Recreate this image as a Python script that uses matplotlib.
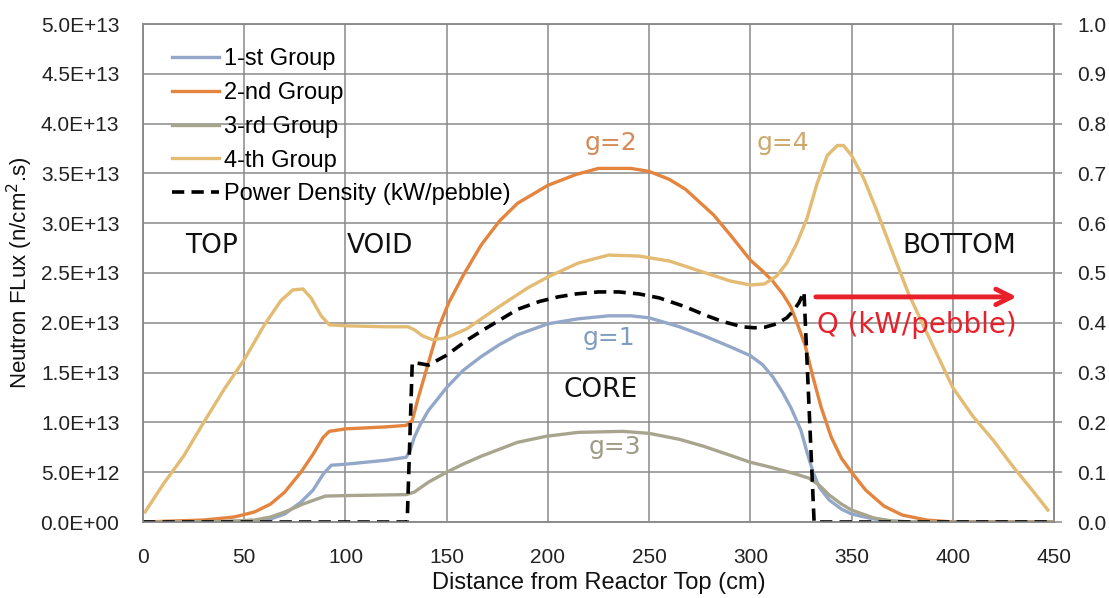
import matplotlib
matplotlib.use("Agg")
import matplotlib.pyplot as plt
from matplotlib.ticker import MultipleLocator, FormatStrFormatter, FuncFormatter

plt.rcParams["font.family"] = ["Liberation Sans", "DejaVu Sans"]

# neutron flux per energy group, in units of 1e13 n/cm2.s, vs distance from reactor top (cm)
g1_x = [0, 20, 40, 55, 63, 70, 78, 84, 89, 93, 100, 110, 120, 130, 132, 134, 137, 141, 150, 158,
        167, 176, 185, 200, 215, 230, 241, 250, 265, 277, 290, 300, 306, 311, 316, 320, 325, 328,
        331, 334, 339, 345, 350, 361, 370, 380, 450]
g1_y = [0, 0, 0.005, 0.01, 0.03, 0.08, 0.2, 0.32, 0.48, 0.57, 0.58, 0.6, 0.62, 0.65, 0.72, 0.85,
        0.98, 1.12, 1.35, 1.52, 1.66, 1.78, 1.88, 1.99, 2.04, 2.07, 2.07, 2.05, 1.96, 1.87, 1.76,
        1.67, 1.58, 1.46, 1.3, 1.15, 0.92, 0.7, 0.5, 0.35, 0.22, 0.13, 0.08, 0.03, 0.01, 0, 0]

g2_x = [0, 30, 45, 55, 63, 70, 78, 84, 89, 92, 100, 120, 130, 133, 136, 141, 146, 151, 158, 167,
        176, 185, 200, 214, 225, 241, 250, 260, 268, 282, 291, 300, 306, 311, 316, 320, 323, 327,
        331, 335, 340, 345, 350, 357, 366, 375, 387, 400, 450]
g2_y = [0, 0.02, 0.05, 0.1, 0.18, 0.3, 0.5, 0.68, 0.85, 0.91, 0.935, 0.955, 0.97, 1.02, 1.25, 1.6,
        1.95, 2.2, 2.47, 2.78, 3.02, 3.2, 3.38, 3.49, 3.55, 3.55, 3.52, 3.44, 3.34, 3.08, 2.86, 2.63,
        2.52, 2.42, 2.29, 2.16, 2.0, 1.78, 1.45, 1.15, 0.85, 0.64, 0.5, 0.32, 0.16, 0.07, 0.02, 0, 0]

g3_x = [0, 40, 55, 63, 70, 79, 90, 100, 130, 134, 141, 150, 158, 167, 176, 185, 199, 215, 237,
        250, 265, 277, 290, 300, 310, 321, 329, 334, 339, 345, 350, 361, 370, 380, 450]
g3_y = [0, 0.005, 0.02, 0.05, 0.1, 0.18, 0.26, 0.265, 0.275, 0.3, 0.4, 0.5, 0.58, 0.66, 0.73, 0.8,
        0.86, 0.9, 0.91, 0.89, 0.83, 0.76, 0.67, 0.6, 0.55, 0.49, 0.44, 0.37, 0.27, 0.18, 0.12,
        0.04, 0.01, 0, 0]

g4_x = [1, 10, 20, 30, 40, 50, 60, 68, 74, 79, 83, 88, 92, 100, 120, 131, 134, 138, 143, 150, 160,
        175, 190, 200, 215, 230, 245, 260, 275, 290, 300, 307, 313, 318, 323, 328, 333, 338, 343,
        346, 350, 356, 362, 370, 378, 386, 400, 410, 420, 430, 440, 447]
g4_y = [0.1, 0.38, 0.66, 1.0, 1.33, 1.63, 1.98, 2.22, 2.33, 2.34, 2.25, 2.07, 1.98, 1.97, 1.96,
        1.96, 1.93, 1.87, 1.83, 1.85, 1.94, 2.15, 2.35, 2.46, 2.6, 2.68, 2.67, 2.62, 2.52, 2.42,
        2.38, 2.39, 2.47, 2.6, 2.8, 3.05, 3.4, 3.68, 3.78, 3.78, 3.68, 3.45, 3.15, 2.72, 2.3, 1.95,
        1.35, 1.06, 0.82, 0.55, 0.3, 0.12]

# power density, kW/pebble (right axis)
pd_x = [0, 130.5, 133, 137, 141, 150, 160, 167, 176, 185, 196, 205, 214, 225, 235, 245, 255, 268,
        278, 286, 296, 302, 307, 313, 318, 321, 324, 326.5, 331.5, 450]
pd_y = [0, 0, 0.32, 0.318, 0.315, 0.335, 0.365, 0.383, 0.405, 0.427, 0.443, 0.452, 0.458, 0.462,
        0.462, 0.458, 0.45, 0.432, 0.415, 0.403, 0.392, 0.39, 0.391, 0.398, 0.41, 0.423, 0.44,
        0.462, 0, 0]

labels = ["1-st Group", "2-nd Group", "3-rd Group", "4-th Group", "Power Density (kW/pebble)"]
colors = ["#93A8C9", "#E3843F", "#A8A58E", "#E3BB72"]

E13 = 1e13


def sci_label(v, pos):
    if v <= 0:
        return "0.0E+00"
    exp = len(str(int(round(v)))) - 1
    return "%.1fE+%02d" % (v / 10 ** exp, exp)


fig = plt.figure(figsize=(11.09, 5.98), dpi=100)
ax = fig.add_axes([143 / 1109, 76 / 598, 911 / 1109, 498 / 598])
ax2 = ax.twinx()

lines = []
for xs, ys, c, lab in zip([g1_x, g2_x, g3_x, g4_x], [g1_y, g2_y, g3_y, g4_y], colors, labels):
    l, = ax.plot(xs, [v * E13 for v in ys], color=c, lw=2.4, label=lab, zorder=3)
    lines.append(l)
l, = ax2.plot(pd_x, pd_y, color="black", lw=2.6, linestyle=(0, (3.4, 2.0)), label=labels[4])
lines.append(l)

grid_c = "#8A8A8A"
ax.set_xlim(0, 450)
ax.set_ylim(0, 5e13)
ax2.set_ylim(0, 1.0)
ax.xaxis.set_major_locator(MultipleLocator(50))
ax.yaxis.set_major_locator(MultipleLocator(5e12))
ax2.yaxis.set_major_locator(MultipleLocator(0.1))
ax.yaxis.set_major_formatter(FuncFormatter(sci_label))
ax2.yaxis.set_major_formatter(FormatStrFormatter("%.1f"))
ax.grid(True, color=grid_c, lw=1.1)
ax.set_axisbelow(True)
for a in (ax, ax2):
    for s in a.spines.values():
        s.set_color(grid_c)
        s.set_linewidth(1.1)

ax.tick_params(axis="x", length=0, pad=19, labelsize=15, colors="#222222")
ax.tick_params(axis="y", length=0, pad=17, labelsize=15, colors="#222222")
ax2.tick_params(axis="y", length=6, width=1.1, color=grid_c, pad=11, labelsize=15, labelcolor="#222222")

ax.set_xlabel("Distance from Reactor Top (cm)", fontsize=17, labelpad=3, color="#111111")
ax.set_ylabel("Neutron FLux (n/cm$^2$.s)", fontsize=16, labelpad=4, color="#111111")

leg = ax.legend(handles=lines, loc="upper left", bbox_to_anchor=(0.019, 0.975), frameon=False,
                fontsize=17, handlelength=2.0, handletextpad=0.2, labelspacing=0.5, borderpad=0)

# region and group annotations
ann_font = ["DejaVu Sans"]
for txt, x, y in [("TOP", 34, 2.77), ("VOID", 117, 2.77), ("BOTTOM", 403, 2.77), ("CORE", 226, 1.33)]:
    ax.text(x, y * E13, txt, ha="center", va="center", fontsize=19, family=ann_font, color="#111111")
for txt, x, y, c in [("g=2", 231, 3.81, "#D58A55"), ("g=4", 316, 3.81, "#CDA86C"),
                     ("g=1", 230, 1.85, "#7E9CC0"), ("g=3", 233, 0.75, "#9E9B86")]:
    ax.text(x, y * E13, txt, ha="center", va="center", fontsize=18, family=ann_font, color=c)

red = "#E8202A"
ax.annotate("", xy=(433, 2.26 * E13), xytext=(331, 2.26 * E13),
            arrowprops=dict(arrowstyle="->", lw=3.5, color=red, mutation_scale=28))
ax.text(333, 1.98 * E13, "Q (kW/pebble)", ha="left", va="center", fontsize=20, family=ann_font, color=red)

fig.savefig("out.png", dpi=100)
